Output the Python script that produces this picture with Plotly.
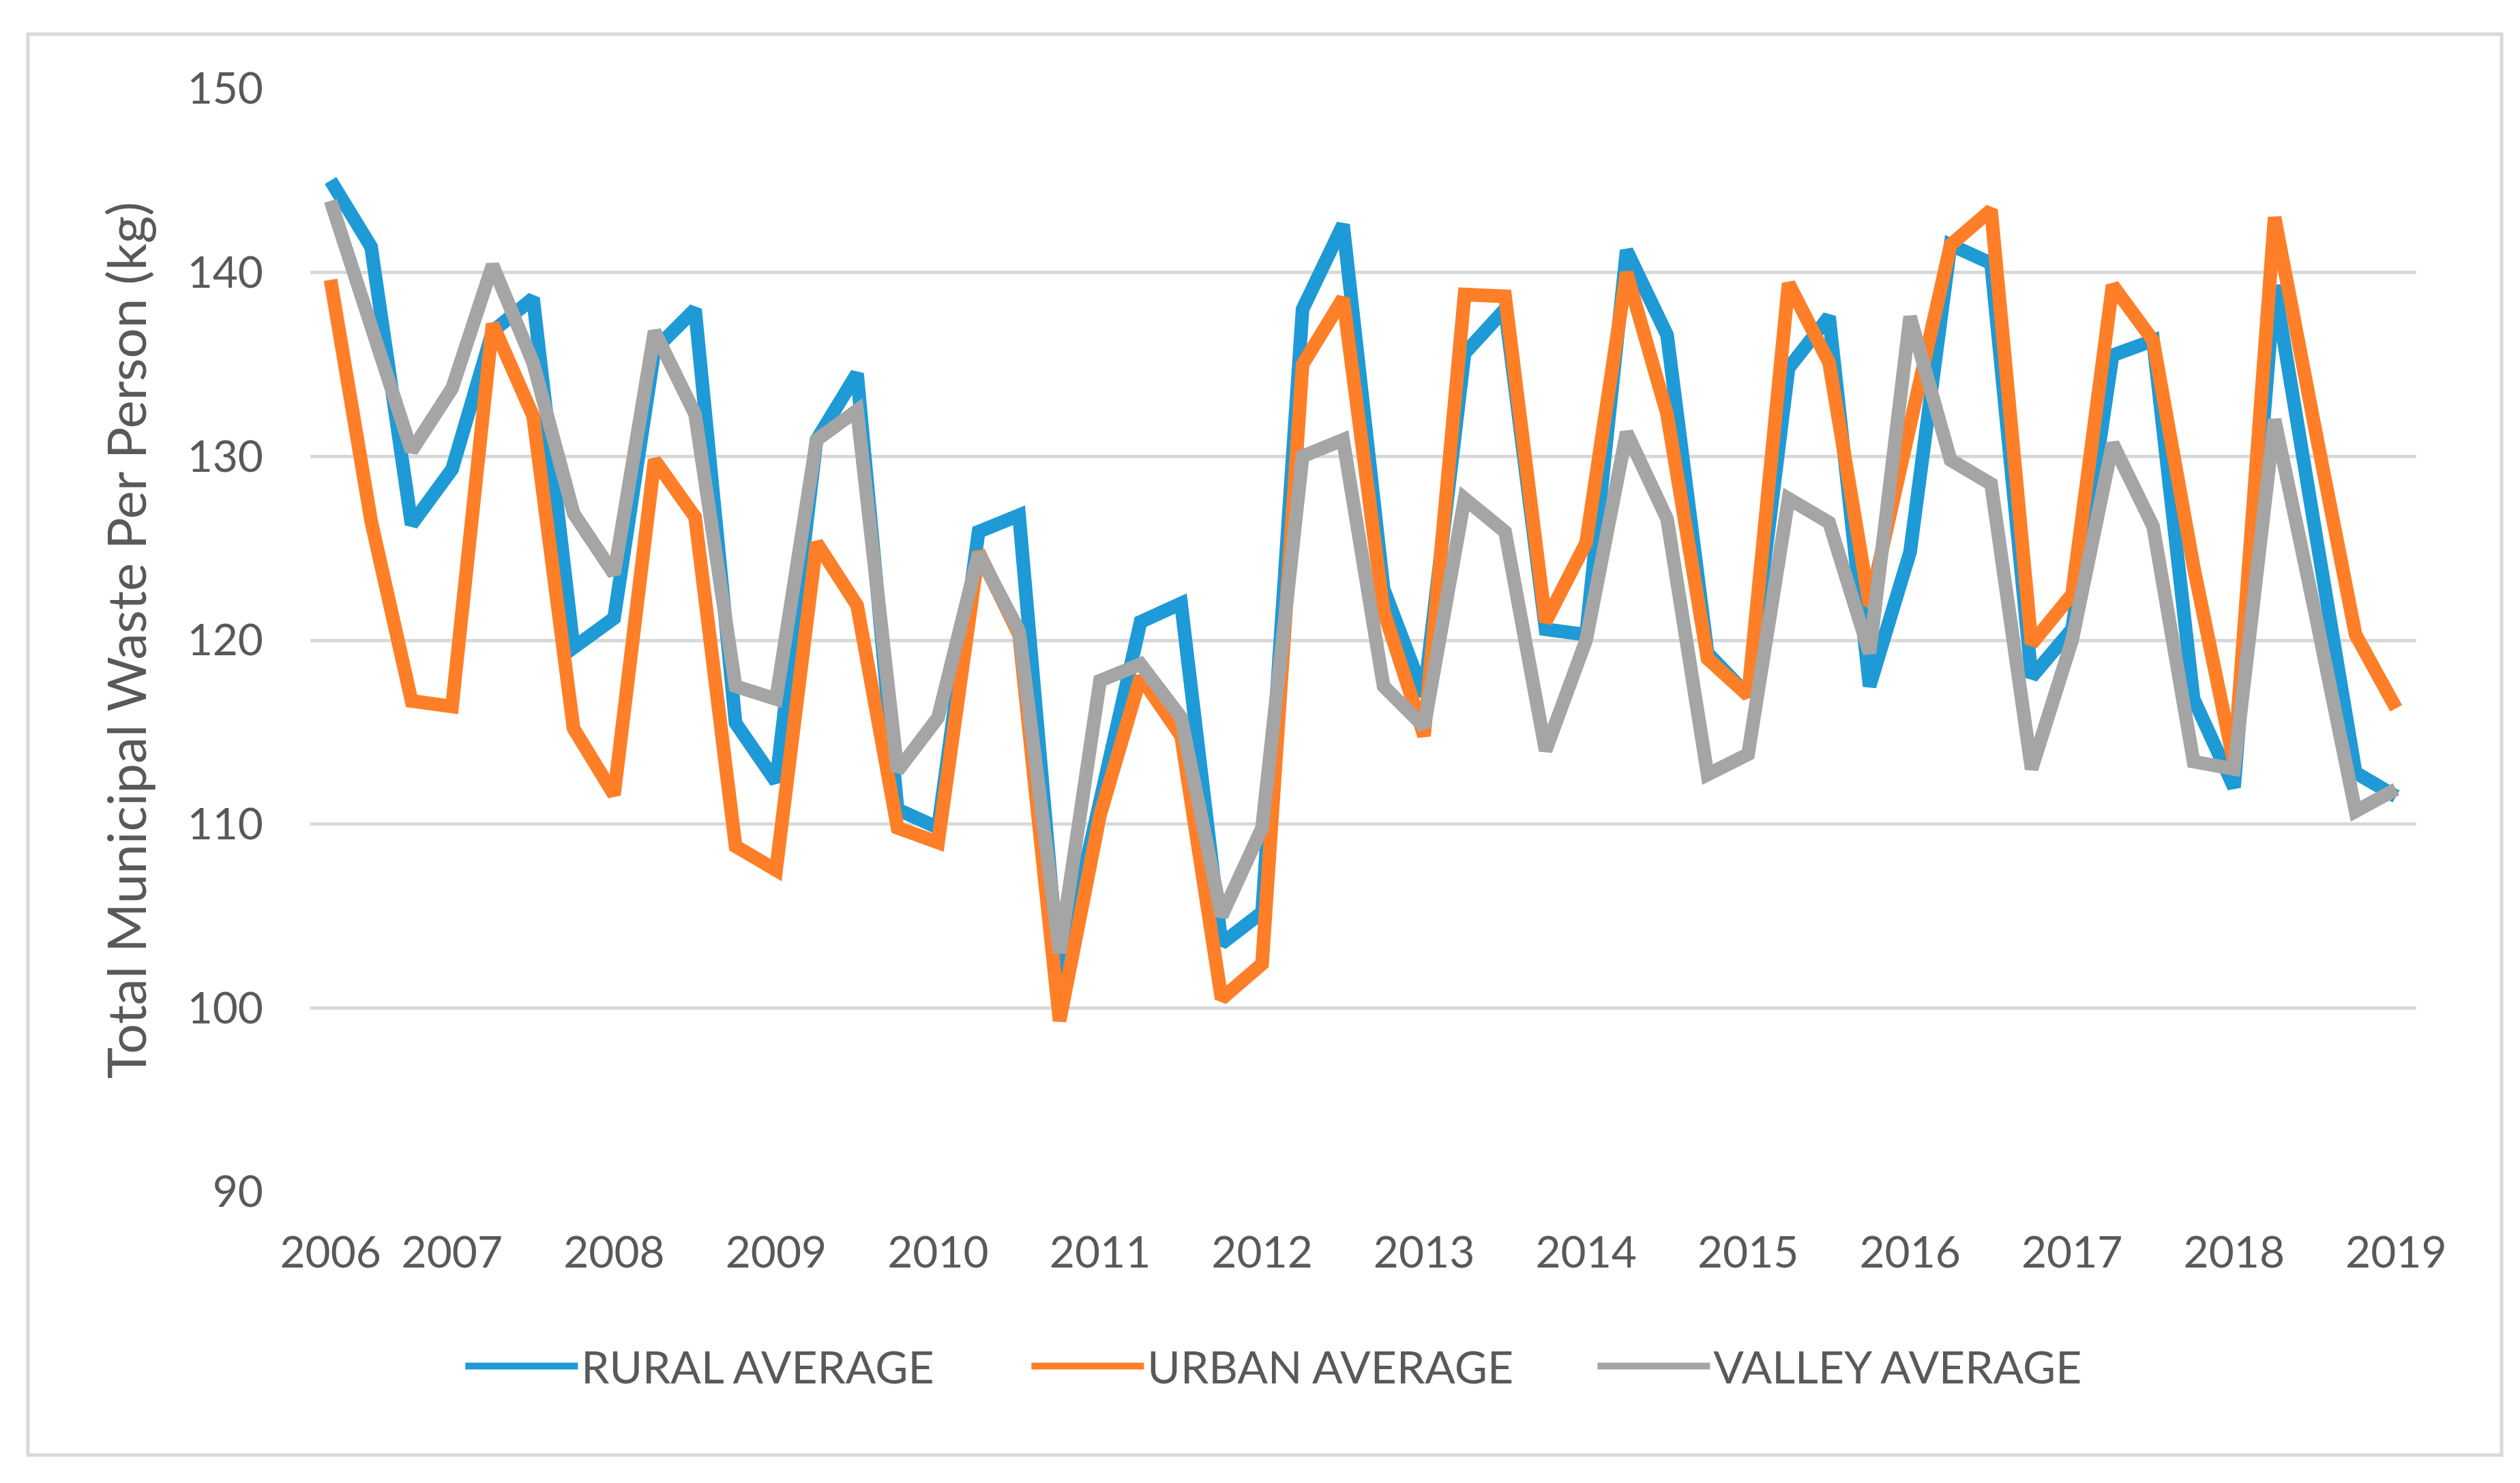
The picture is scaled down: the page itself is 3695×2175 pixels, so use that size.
import plotly.graph_objects as go

# Categories: quarterly periods from 2006 Q2 to 2019 Q1
quarters = (["2006 Q2", "2006 Q3", "2006 Q4"]
            + [f"{y} Q{q}" for y in range(2007, 2019) for q in range(1, 5)]
            + ["2019 Q1"])
tick_quarters = ["2006 Q2"] + [f"{y} Q1" for y in range(2007, 2020)]
tick_labels = [str(y) for y in range(2006, 2020)]

rural = [145.0, 141.4, 126.3, 129.3, 136.8, 138.6, 119.6, 121.2,
         135.8, 138.0, 115.5, 112.3, 130.9, 134.5, 110.8, 109.8,
         125.9, 126.8, 101.5, 111.5, 121.0, 122.0, 103.5, 105.2,
         138.0, 142.6, 122.8, 117.0, 135.6, 138.0, 120.6, 120.3,
         141.2, 136.6, 119.3, 117.0, 134.8, 137.6, 117.5, 124.8,
         141.5, 140.5, 118.0, 120.6, 135.5, 136.3, 116.8, 112.0,
         139.3, 126.0, 112.8, 111.5]
urban = [139.6, 126.5, 116.7, 116.4, 137.2, 132.2, 115.2, 111.6,
         129.8, 126.7, 108.8, 107.5, 125.3, 121.9, 109.8, 109.0,
         124.8, 120.3, 99.3, 110.5, 118.0, 114.8, 100.5, 102.4,
         135.0, 138.6, 121.6, 114.8, 138.8, 138.7, 121.0, 125.3,
         140.0, 132.3, 119.0, 117.0, 139.4, 135.1, 121.9, 131.5,
         141.5, 143.4, 119.8, 122.5, 139.3, 136.3, 124.0, 113.3,
         143.0, 131.5, 120.3, 116.3]
valley = [143.9, 137.2, 130.3, 133.7, 140.4, 135.1, 126.9, 123.6,
          136.8, 132.3, 117.5, 116.8, 130.9, 132.5, 112.9, 115.8,
          124.7, 120.5, 103.0, 117.8, 118.7, 115.8, 105.0, 109.8,
          130.0, 130.9, 117.5, 115.3, 127.7, 125.9, 114.0, 120.0,
          131.3, 126.6, 112.7, 113.8, 127.7, 126.4, 119.3, 137.6,
          129.8, 128.5, 113.0, 120.0, 130.7, 126.2, 113.4, 113.0,
          132.0, 121.5, 110.7, 111.9]

series_names = ["RURAL AVERAGE", "URBAN AVERAGE", "VALLEY AVERAGE"]
series_colors = ["#1e9ad6", "#fe7f27", "#a5a5a5"]

FONT = "Lato"
TEXT = "#595959"

fig = go.Figure()
for name, vals, col in zip(series_names, [rural, urban, valley], series_colors):
    fig.add_trace(go.Scatter(x=quarters, y=vals, mode="lines", name=name,
                             line=dict(color=col, width=20)))

fig.update_layout(
    width=3695, height=2175,
    margin=dict(l=447, r=160, t=122, b=435),
    paper_bgcolor="white", plot_bgcolor="white",
    font=dict(family=FONT, color=TEXT, size=64),
    showlegend=True,
    legend=dict(orientation="h", x=0.072, xanchor="left", y=-0.158,
                yanchor="middle", itemwidth=165, entrywidth=650,
                entrywidthmode="pixels",
                font=dict(size=66, color=TEXT), traceorder="normal"),
    shapes=[dict(type="rect", xref="paper", yref="paper",
                 x0=-0.1341, x1=1.0405, y0=-0.2385, y1=1.0495,
                 line=dict(color="#d9d9d9", width=5), layer="below")],
)
fig.update_xaxes(type="category", categoryorder="array", categoryarray=quarters,
                 range=[-0.5, len(quarters) - 0.5],
                 tickmode="array", tickvals=tick_quarters, ticktext=tick_labels,
                 showgrid=False, showline=False, zeroline=False, ticks="",
                 ticklabelstandoff=46,
                 tickfont=dict(family=FONT, size=64, color=TEXT))
fig.update_yaxes(range=[90, 150], dtick=10, tick0=90,
                 showgrid=True, gridcolor="#d9d9d9", gridwidth=5,
                 showline=False, zeroline=False, ticks="",
                 ticklabelstandoff=68,
                 tickfont=dict(family=FONT, size=64, color=TEXT),
                 title=dict(text="Total Municipal Waste Per Person (kg)",
                            font=dict(family=FONT, size=78, color=TEXT),
                            standoff=34))

fig.write_html("out.html")
